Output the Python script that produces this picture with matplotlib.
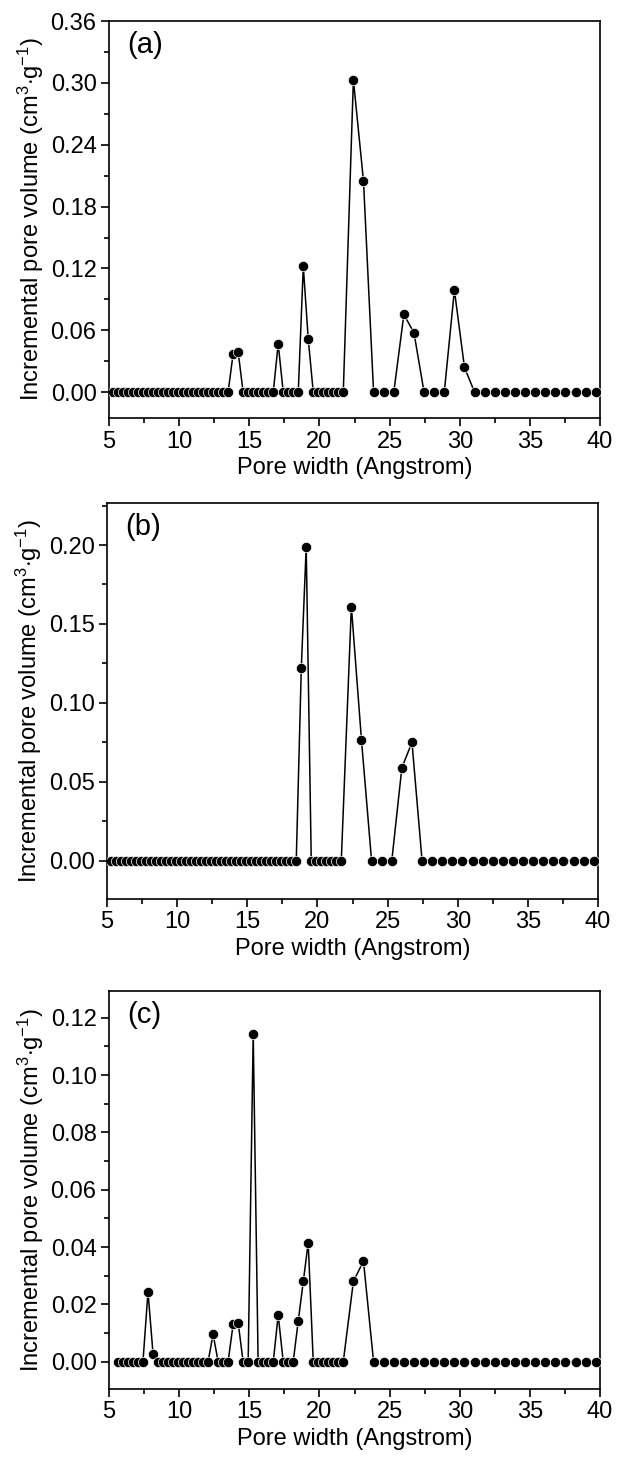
import matplotlib
matplotlib.use("Agg")
import matplotlib.pyplot as plt
from matplotlib.ticker import MultipleLocator, FormatStrFormatter

plt.rcParams['font.family'] = ['Liberation Sans', 'DejaVu Sans']
plt.rcParams['mathtext.fontset'] = 'custom'
plt.rcParams['mathtext.rm'] = 'Liberation Sans'
plt.rcParams['mathtext.it'] = 'Liberation Sans:italic'

# Pore widths (Angstrom) of the DFT kernel
pore_width = [
    5.28, 5.64, 6.00, 6.35, 6.71, 7.07, 7.42, 7.78, 8.14, 8.49,
    8.85, 9.21, 9.57, 9.92, 10.28, 10.64, 10.99, 11.35, 11.71, 12.06,
    12.42, 12.78, 13.14, 13.49, 13.85, 14.21, 14.56, 14.92, 15.28, 15.63,
    15.99, 16.35, 16.71, 17.06, 17.42, 17.78, 18.13, 18.49, 18.85, 19.20,
    19.56, 19.92, 20.28, 20.63, 20.99, 21.35, 21.70, 22.42, 23.14, 23.86,
    24.58, 25.30, 26.02, 26.74, 27.46, 28.18, 28.90, 29.62, 30.34, 31.06,
    31.78, 32.50, 33.22, 33.94, 34.66, 35.38, 36.10, 36.82, 37.54, 38.26,
    38.98, 39.70,
]

# Panel (a) incremental pore volume (cm3/g)
volume_a = [
    0, 0, 0, 0, 0, 0, 0, 0, 0, 0,
    0, 0, 0, 0, 0, 0, 0, 0, 0, 0,
    0, 0, 0, 0, 0.0375, 0.0388, 0, 0, 0, 0,
    0, 0, 0, 0.047, 0, 0, 0, 0, 0.122, 0.052,
    0, 0, 0, 0, 0, 0, 0, 0.303, 0.205, 0,
    0, 0, 0.0754, 0.0576, 0, 0, 0, 0.099, 0.024, 0,
    0, 0, 0, 0, 0, 0, 0, 0, 0, 0,
    0, 0,
]

# Panel (b)
volume_b = [
    0, 0, 0, 0, 0, 0, 0, 0, 0, 0,
    0, 0, 0, 0, 0, 0, 0, 0, 0, 0,
    0, 0, 0, 0, 0, 0, 0, 0, 0, 0,
    0, 0, 0, 0, 0, 0, 0, 0, 0.122, 0.199,
    0, 0, 0, 0, 0, 0, 0, 0.161, 0.0764, 0,
    0, 0, 0.059, 0.075, 0, 0, 0, 0, 0, 0,
    0, 0, 0, 0, 0, 0, 0, 0, 0, 0,
    0, 0,
]

# Panel (c) starts at the second pore width
pore_width_c = pore_width[1:]
volume_c = [
    0, 0, 0, 0, 0, 0, 0.0244, 0.0027, 0, 0,
    0, 0, 0, 0, 0, 0, 0, 0, 0, 0.0096,
    0, 0, 0, 0.0131, 0.0135, 0, 0, 0.1144, 0, 0,
    0, 0, 0.0163, 0, 0, 0, 0.0142, 0.028, 0.0415, 0,
    0, 0, 0, 0, 0, 0, 0.028, 0.0351, 0, 0,
    0, 0, 0, 0, 0, 0, 0, 0, 0, 0,
    0, 0, 0, 0, 0, 0, 0, 0, 0, 0,
    0,
]

panel_labels = ['(a)', '(b)', '(c)']
xlabel = 'Pore width (Angstrom)'
ylabel = r'Incremental pore volume (cm$^{3}$$\cdot$g$^{-1}$)'

W, H = 617, 1465
fig = plt.figure(figsize=(W / 100, H / 100), dpi=100)

def rect(l, t, r, b):
    return [l / W, 1 - b / H, (r - l) / W, (b - t) / H]

specs = [
    dict(x=pore_width, y=volume_a, rect=rect(109, 21, 600, 418),
         ylim=(-0.025, 0.36), major=0.06, minor=0.03),
    dict(x=pore_width, y=volume_b, rect=rect(107, 503, 598, 899),
         ylim=(-0.0242, 0.2266), major=0.05, minor=0.025),
    dict(x=pore_width_c, y=volume_c, rect=rect(109, 991, 600, 1389),
         ylim=(-0.0095, 0.1293), major=0.02, minor=0.01),
]

fs = 17
for spec, lab in zip(specs, panel_labels):
    ax = fig.add_axes(spec['rect'])
    ax.plot(spec['x'], spec['y'], color='black', lw=1.1, marker='o',
            ms=7.4, mfc='black', mec='white', mew=0.5, zorder=3)
    ax.set_xlim(5, 40)
    ax.set_ylim(*spec['ylim'])
    ax.xaxis.set_major_locator(MultipleLocator(5))
    ax.xaxis.set_minor_locator(MultipleLocator(2.5))
    ax.yaxis.set_major_locator(MultipleLocator(spec['major']))
    ax.yaxis.set_minor_locator(MultipleLocator(spec['minor']))
    ax.yaxis.set_major_formatter(FormatStrFormatter('%.2f'))
    ax.tick_params(which='major', direction='out', length=6, width=1.2,
                   labelsize=fs, top=False, right=False, pad=3)
    ax.tick_params(which='minor', direction='out', length=3.5, width=1.2,
                   top=False, right=False)
    for s in ax.spines.values():
        s.set_linewidth(1.2)
    ax.set_xlabel(xlabel, fontsize=fs, labelpad=3)
    ax.set_ylabel(ylabel, fontsize=fs, labelpad=3)
    ax.text(0.038, 0.975, lab, transform=ax.transAxes, fontsize=21,
            ha='left', va='top')

fig.savefig('out.png', dpi=100)
